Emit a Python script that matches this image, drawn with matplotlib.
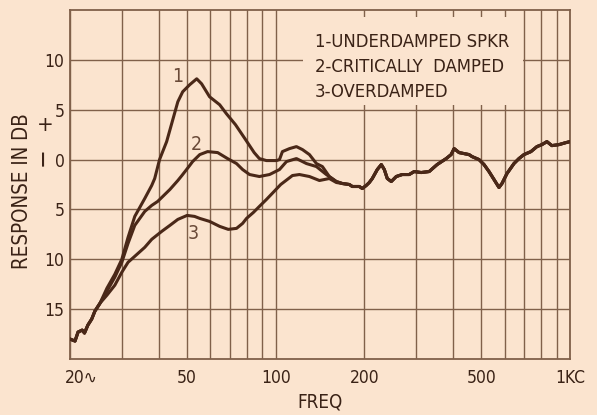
import numpy as np
import matplotlib
matplotlib.use("Agg")
import matplotlib.pyplot as plt
from matplotlib.patches import Rectangle
from matplotlib.transforms import ScaledTranslation

plt.rcParams['font.family'] = ['DejaVu Sans']
plt.rcParams['font.stretch'] = 'condensed'

# --- data: loudspeaker response in dB vs frequency in c/s ---
# shared low-frequency start (all three curves coincide)
low_freq = [20.0, 20.8, 21.3, 22.0, 22.4, 23.0, 23.7, 24.3, 25.3]
low_db = [-18.0, -18.2, -17.3, -17.1, -17.4, -16.6, -16.0, -15.2, -14.4]

# 1 - underdamped speaker
under_freq = [26.7, 28.4, 30.0, 31.5, 33.2, 35.9, 37.9, 38.8, 40.3, 42.6,
              44.7, 46.5, 48.3, 51.0, 53.9, 56.0, 59.6, 64.5, 68.0, 73.0,
              79.0, 84.5, 88.0, 93.0, 100.6, 103.0, 105.4, 111.4, 117.6,
              123.3, 130.2, 137.5, 144.1, 152.1, 160.7]
under_db = [-12.9, -11.5, -10.0, -7.8, -5.7, -3.9, -2.6, -1.9, 0.0, 1.8,
            4.0, 5.8, 6.8, 7.5, 8.1, 7.6, 6.3, 5.5, 4.6, 3.5,
            2.0, 0.7, 0.1, -0.1, -0.1, 0.0, 0.8, 1.1, 1.3,
            1.0, 0.5, -0.4, -0.7, -1.7, -2.2]

# 2 - critically damped
crit_freq = [26.7, 28.4, 30.0, 31.5, 33.2, 35.9, 37.9, 39.7, 41.0, 43.7,
             46.5, 48.0, 51.0, 52.2, 55.2, 58.7, 63.5, 68.6, 73.6, 77.2,
             81.5, 88.0, 95.3, 103.0, 108.8, 117.6, 127.2, 137.5, 148.6,
             160.7]
crit_db = [-13.2, -11.8, -10.3, -8.4, -6.6, -5.2, -4.6, -4.2, -3.8, -3.0,
           -2.1, -1.6, -0.6, -0.2, 0.5, 0.8, 0.7, 0.1, -0.4, -1.0,
           -1.5, -1.7, -1.5, -1.0, -0.2, 0.1, -0.4, -0.7, -1.5,
           -2.2]

# 3 - overdamped
over_freq = [26.7, 28.4, 30.0, 31.5, 33.2, 35.9, 37.9, 41.0, 43.7, 46.5,
             50.0, 53.0, 55.2, 59.6, 64.5, 69.0, 73.6, 77.2, 79.6, 84.0,
             88.0, 93.0, 98.0, 104.0, 114.0, 120.4, 130.2, 140.8, 152.1,
             160.7]
over_db = [-13.6, -12.6, -11.3, -10.3, -9.7, -8.8, -8.0, -7.2, -6.6, -6.0,
           -5.6, -5.7, -5.9, -6.2, -6.7, -7.0, -6.9, -6.4, -5.9, -5.3,
           -4.7, -4.0, -3.3, -2.5, -1.6, -1.5, -1.7, -2.1, -1.9,
           -2.3]

# shared high-frequency tail
tail_freq = [168.4, 177.9, 182.1, 192.3, 196.9, 203.0, 208.0, 212.9, 221.4,
             228.5, 233.9, 239.4, 247.0, 256.8, 269.1, 284.2, 295.6, 312.1,
             332.3, 353.6, 379.6, 394.5, 403.9, 419.9, 436.6, 453.9, 464.6,
             490.7, 510.3, 530.6, 551.8, 573.7, 587.3, 610.7, 645.1, 670.7,
             697.5, 736.6, 772.0, 802.8, 834.7, 867.9, 916.9, 968.3, 1000.0]
tail_db = [-2.4, -2.5, -2.7, -2.7, -2.9, -2.6, -2.3, -1.9, -1.0,
           -0.5, -1.0, -1.9, -2.2, -1.7, -1.5, -1.5, -1.2, -1.3,
           -1.2, -0.5, 0.1, 0.5, 1.1, 0.7, 0.6, 0.5, 0.3,
           0.0, -0.5, -1.2, -2.0, -2.8, -2.4, -1.4, -0.4, 0.1,
           0.5, 0.8, 1.3, 1.5, 1.8, 1.4, 1.5, 1.7, 1.8]

legend_lines = ["1-UNDERDAMPED SPKR", "2-CRITICALLY  DAMPED", "3-OVERDAMPED"]
curve_numbers = ["1", "2", "3"]
number_spots = [(46.5, 8.3), (53.9, 1.5), (52.5, -7.4)]

x_ticks = [20, 50, 100, 200, 500, 1000]
x_tick_labels = ["20\u223f", "50", "100", "200", "500", "1KC"]
x_grid = [30, 40, 60, 70, 80, 90, 300, 400, 600, 700, 800, 900]
y_ticks = [10, 5, 0, -5, -10, -15]
y_tick_labels = ["10", "5", "0", "5", "10", "15"]

# --- styling ---
paper = "#FBE4CF"
ink = "#4A2818"
rule = "#80604A"
txt = "#3A2216"

fig = plt.figure(figsize=(5.97, 4.15), dpi=100, facecolor=paper)
ax = fig.add_axes([70 / 597, 1 - 359 / 415, 500 / 597, 349 / 415])
ax.set_facecolor(paper)
ax.set_xscale("log")
ax.set_xlim(20, 1000)
ax.set_ylim(-20, 15)

ax.set_xticks(x_ticks)
ax.set_xticklabels(x_tick_labels)
ax.set_xticks(x_grid, minor=True)
ax.set_xticklabels([], minor=True)
ax.set_yticks(y_ticks)
ax.set_yticklabels(y_tick_labels)
ax.tick_params(which="both", length=0, colors=txt, labelsize=12.5)
ax.tick_params(axis="x", pad=7)
ax.tick_params(axis="y", pad=4)
ax.set_axisbelow(True)
ax.grid(True, which="both", axis="x", color=rule, lw=1.0)
ax.grid(True, which="major", axis="y", color=rule, lw=1.0)
for sp in ax.spines.values():
    sp.set_color(rule)
    sp.set_linewidth(1.3)

# shift the first frequency label so its digits sit on the 20 line
lbl0 = ax.get_xticklabels()[0]
lbl0.set_horizontalalignment("left")
lbl0.set_transform(lbl0.get_transform() + ScaledTranslation(-5 / 100, 0, fig.dpi_scale_trans))

# curves
for f_mid, d_mid in [(under_freq, under_db), (crit_freq, crit_db), (over_freq, over_db)]:
    f = np.concatenate([low_freq, f_mid, tail_freq])
    d = np.concatenate([low_db, d_mid, tail_db])
    ax.plot(f, d, color=ink, lw=2.2, solid_joinstyle="round", solid_capstyle="round", zorder=3)

for s, (fx, fy) in zip(curve_numbers, number_spots):
    ax.text(fx, fy, s, color="#6A4A38", fontsize=14, ha="center", va="center", zorder=4)

# key panel masking the grid
ax.add_patch(Rectangle((0.466, 0.728), 0.44, 0.252, transform=ax.transAxes,
                       facecolor=paper, edgecolor="none", zorder=1))
for i, s in enumerate(legend_lines):
    ax.text(0.49, 0.908 - i * 0.0715, s, transform=ax.transAxes, fontsize=13.2,
            color=txt, ha="left", va="center", zorder=4)

# axis titles
fig.text(320 / 597, 1 - 402 / 415, "FREQ", fontsize=13.5, color=txt, ha="center", va="center")
fig.text(22 / 597, 1 - 191 / 415, "RESPONSE IN DB", fontsize=14.8, color=txt,
         rotation=90, ha="center", va="center")
fig.text(45 / 597, 1 - 125 / 415, "+", fontsize=16, color=txt, ha="center", va="center")
fig.text(43 / 597, 1 - 157 / 415, "\u2212", fontsize=18, color=txt, rotation=90,
         ha="center", va="center")

fig.savefig("out.png", dpi=100, facecolor=paper)
